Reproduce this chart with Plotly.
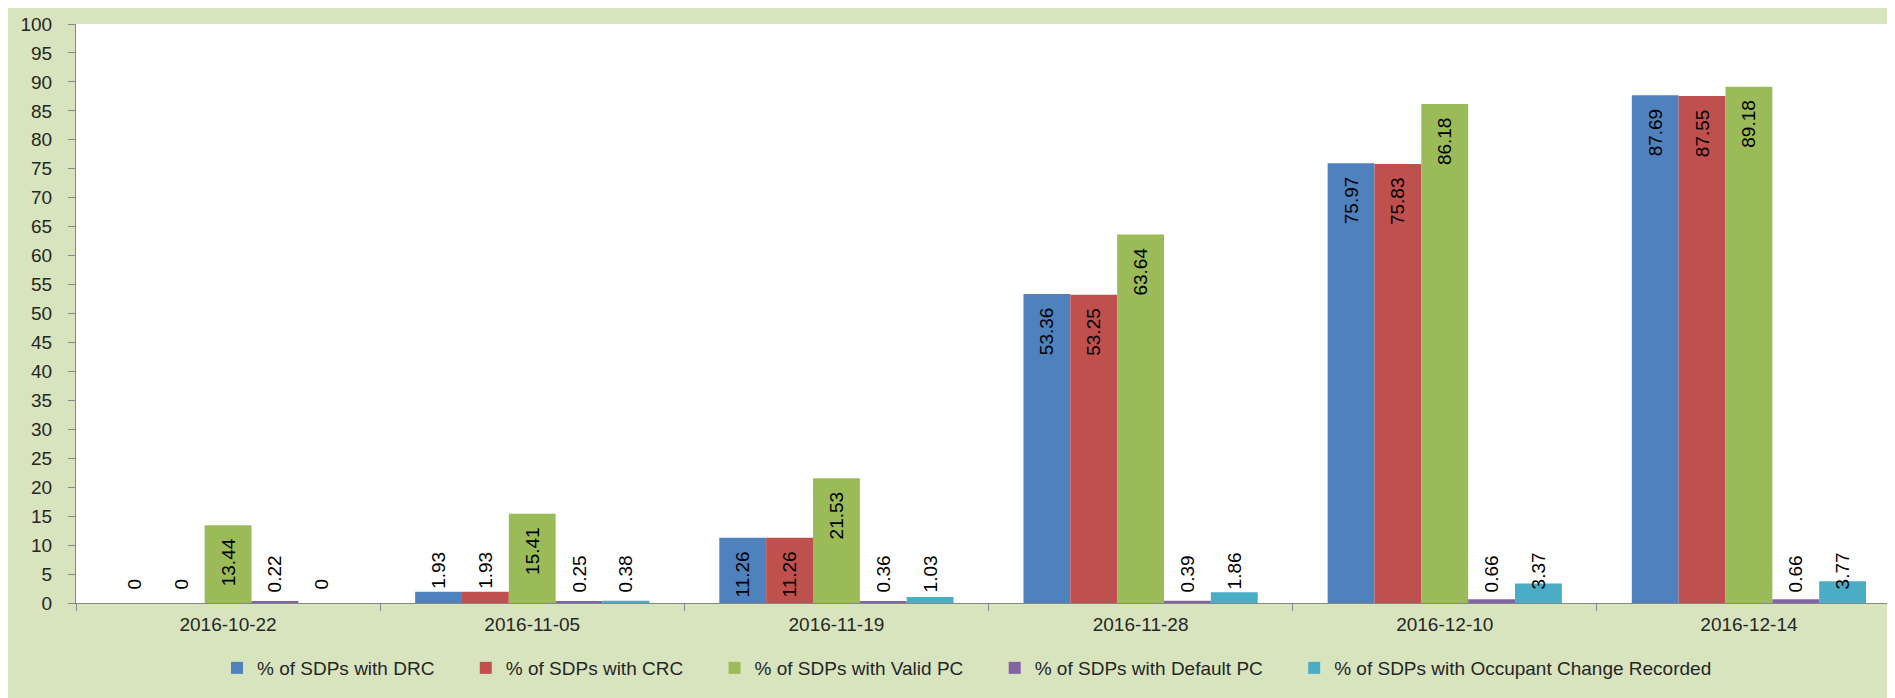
import plotly.graph_objects as go

categories = ["2016-10-22", "2016-11-05", "2016-11-19", "2016-11-28", "2016-12-10", "2016-12-14"]

series_names = [
    "% of SDPs with DRC",
    "% of SDPs with CRC",
    "% of SDPs with Valid PC",
    "% of SDPs with Default PC",
    "% of SDPs with Occupant Change Recorded",
]

drc = [0, 1.93, 11.26, 53.36, 75.97, 87.69]
crc = [0, 1.93, 11.26, 53.25, 75.83, 87.55]
valid_pc = [13.44, 15.41, 21.53, 63.64, 86.18, 89.18]
default_pc = [0.22, 0.25, 0.36, 0.39, 0.66, 0.66]
occupant = [0, 0.38, 1.03, 1.86, 3.37, 3.77]

series_values = [drc, crc, valid_pc, default_pc, occupant]
colors = ["#4F81BD", "#C0504D", "#9BBB59", "#8064A2", "#4BACC6"]

y_ticks = list(range(0, 101, 5))

W, H = 1895, 698
ML, MR, MT, MB = 68, 2, 16, 103
FONT = "Liberation Sans, Arial, sans-serif"
NB = "\u00a0"
LBL = 19

fig = go.Figure()
for name, vals, col in zip(series_names, series_values, colors):
    small_series = max(vals) < 10
    texts, positions = [], []
    for v in vals:
        s = f"{v:g}"
        if v == 0:
            positions.append("outside")
            texts.append(NB * 2 + s)
        elif small_series:
            positions.append("inside")
            texts.append(NB * 2 + s)
        elif v >= 10:
            positions.append("inside")
            texts.append(s + NB * 2)
        else:
            positions.append("outside")
            texts.append(s)
    fig.add_trace(go.Bar(
        name=name + NB * 5,
        x=categories,
        y=vals,
        marker=dict(color=col, line=dict(width=0)),
        text=texts,
        textposition=positions,
        insidetextanchor="start" if small_series else "end",
        textangle=-90,
        constraintext="none",
        cliponaxis=False,
        textfont=dict(family=FONT, size=LBL, color="#000000"),
        insidetextfont=dict(family=FONT, size=LBL, color="#000000"),
        outsidetextfont=dict(family=FONT, size=LBL, color="#000000"),
        hoverinfo="x+y",
    ))

pw = W - ML - MR
ph = H - MT - MB

fig.update_layout(
    width=W,
    height=H,
    margin=dict(l=ML, r=MR, t=MT, b=MB, pad=0),
    paper_bgcolor="#D7E4BD",
    plot_bgcolor="#FFFFFF",
    barmode="group",
    bargap=0.23,
    bargroupgap=0,
    font=dict(family=FONT, size=18, color="#262626"),
    showlegend=True,
    legend=dict(
        orientation="h",
        x=(972 - ML) / pw,
        xanchor="center",
        y=(MT + ph - 660) / ph,
        yanchor="middle",
        font=dict(family=FONT, size=19, color="#262626"),
        bgcolor="rgba(0,0,0,0)",
        itemwidth=30,
        traceorder="normal",
    ),
    xaxis=dict(
        type="category",
        showline=True,
        linecolor="#868686",
        linewidth=1,
        ticks="outside",
        tickson="boundaries",
        ticklen=7,
        tickcolor="#868686",
        showgrid=False,
        zeroline=False,
        ticklabelstandoff=4,
        tickfont=dict(family=FONT, size=19, color="#262626"),
    ),
    yaxis=dict(
        range=[0, 100],
        tickvals=y_ticks,
        ticktext=[str(t) for t in y_ticks],
        showline=True,
        linecolor="#868686",
        linewidth=1,
        ticks="outside",
        ticklen=7,
        tickcolor="#868686",
        showgrid=False,
        zeroline=False,
        ticklabelstandoff=12,
        tickfont=dict(family=FONT, size=19, color="#262626"),
    ),
)

fig.write_html("out.html")
